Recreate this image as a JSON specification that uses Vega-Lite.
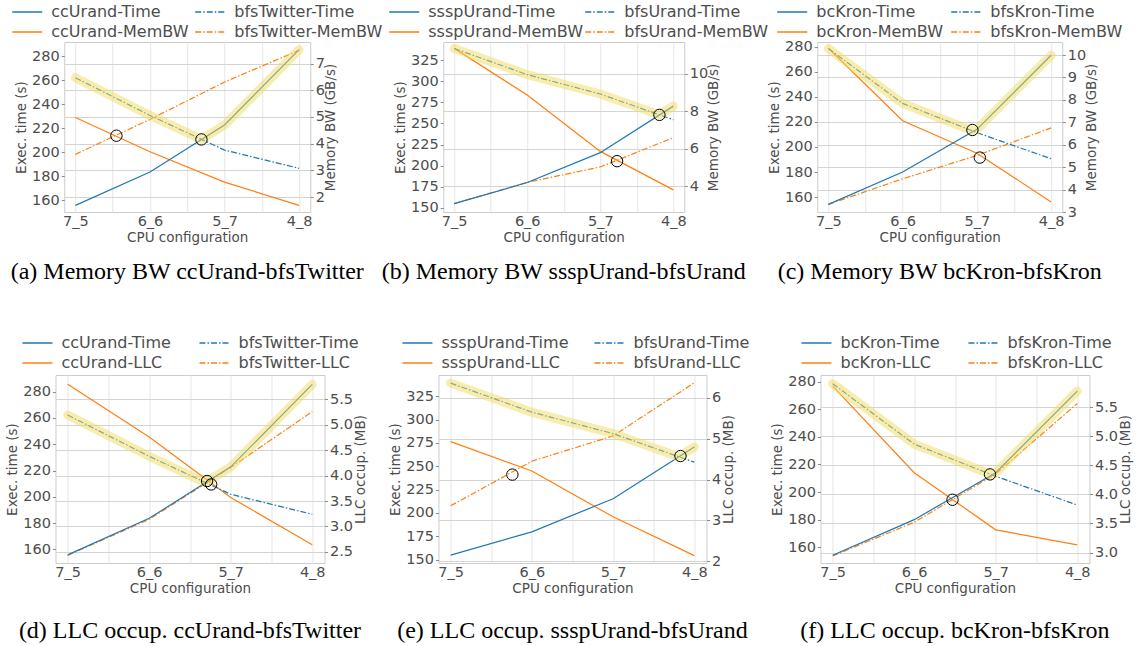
{
  "$schema": "https://vega.github.io/schema/vega-lite/v6.json",
  "padding": {"left": 5, "top": 2, "right": 5, "bottom": 5},
  "background": "white",
  "datasets": {
    "a": [
      {"m": "L", "k": "ccUrand-Time", "x": 0, "v": 155.8},
      {"m": "L", "k": "ccUrand-Time", "x": 1, "v": 183.6},
      {"m": "L", "k": "ccUrand-Time", "x": 2, "v": 222.8},
      {"m": "L", "k": "ccUrand-Time", "x": 3, "v": 285.6},
      {"m": "L", "k": "bfsTwitter-Time", "x": 0, "v": 262.2},
      {"m": "L", "k": "bfsTwitter-Time", "x": 1, "v": 230.8},
      {"m": "L", "k": "bfsTwitter-Time", "x": 2, "v": 201.9},
      {"m": "L", "k": "bfsTwitter-Time", "x": 3, "v": 186.7},
      {"m": "R", "k": "ccUrand-MemBW", "x": 0, "v": 4.98},
      {"m": "R", "k": "ccUrand-MemBW", "x": 1, "v": 3.70},
      {"m": "R", "k": "ccUrand-MemBW", "x": 2, "v": 2.56},
      {"m": "R", "k": "ccUrand-MemBW", "x": 3, "v": 1.69},
      {"m": "R", "k": "bfsTwitter-MemBW", "x": 0, "v": 3.60},
      {"m": "R", "k": "bfsTwitter-MemBW", "x": 1, "v": 4.91},
      {"m": "R", "k": "bfsTwitter-MemBW", "x": 2, "v": 6.31},
      {"m": "R", "k": "bfsTwitter-MemBW", "x": 3, "v": 7.50},
      {"m": "H", "k": "envelope", "x": 0, "v": 262.2},
      {"m": "H", "k": "envelope", "x": 1, "v": 230.8},
      {"m": "H", "k": "envelope", "x": 1.69, "v": 210.8},
      {"m": "H", "k": "envelope", "x": 2, "v": 222.8},
      {"m": "H", "k": "envelope", "x": 3, "v": 285.6},
      {"m": "C", "k": "crossing", "x": 0.55, "v": 213.9},
      {"m": "C", "k": "crossing", "x": 1.69, "v": 210.8}
    ],
    "b": [
      {"m": "L", "k": "ssspUrand-Time", "x": 0, "v": 154.8},
      {"m": "L", "k": "ssspUrand-Time", "x": 1, "v": 179.8},
      {"m": "L", "k": "ssspUrand-Time", "x": 2, "v": 215.3},
      {"m": "L", "k": "ssspUrand-Time", "x": 3, "v": 270.6},
      {"m": "L", "k": "bfsUrand-Time", "x": 0, "v": 339.1},
      {"m": "L", "k": "bfsUrand-Time", "x": 1, "v": 308.0},
      {"m": "L", "k": "bfsUrand-Time", "x": 2, "v": 285.0},
      {"m": "L", "k": "bfsUrand-Time", "x": 3, "v": 254.4},
      {"m": "R", "k": "ssspUrand-MemBW", "x": 0, "v": 11.36},
      {"m": "R", "k": "ssspUrand-MemBW", "x": 1, "v": 8.87},
      {"m": "R", "k": "ssspUrand-MemBW", "x": 2, "v": 5.87},
      {"m": "R", "k": "ssspUrand-MemBW", "x": 3, "v": 3.82},
      {"m": "R", "k": "bfsUrand-MemBW", "x": 0, "v": 3.09},
      {"m": "R", "k": "bfsUrand-MemBW", "x": 1, "v": 4.22},
      {"m": "R", "k": "bfsUrand-MemBW", "x": 2, "v": 5.04},
      {"m": "R", "k": "bfsUrand-MemBW", "x": 3, "v": 6.60},
      {"m": "H", "k": "envelope", "x": 0, "v": 339.1},
      {"m": "H", "k": "envelope", "x": 1, "v": 308.0},
      {"m": "H", "k": "envelope", "x": 2, "v": 285.0},
      {"m": "H", "k": "envelope", "x": 2.81, "v": 260.2},
      {"m": "H", "k": "envelope", "x": 3, "v": 270.6},
      {"m": "C", "k": "crossing", "x": 2.81, "v": 260.2},
      {"m": "C", "k": "crossing", "x": 2.23, "v": 205.2}
    ],
    "c": [
      {"m": "L", "k": "bcKron-Time", "x": 0, "v": 154.2},
      {"m": "L", "k": "bcKron-Time", "x": 1, "v": 180.0},
      {"m": "L", "k": "bcKron-Time", "x": 2, "v": 214.0},
      {"m": "L", "k": "bcKron-Time", "x": 3, "v": 273.1},
      {"m": "L", "k": "bfsKron-Time", "x": 0, "v": 278.5},
      {"m": "L", "k": "bfsKron-Time", "x": 1, "v": 234.7},
      {"m": "L", "k": "bfsKron-Time", "x": 2, "v": 211.4},
      {"m": "L", "k": "bfsKron-Time", "x": 3, "v": 190.6},
      {"m": "R", "k": "bcKron-MemBW", "x": 0, "v": 10.3},
      {"m": "R", "k": "bcKron-MemBW", "x": 1, "v": 7.07},
      {"m": "R", "k": "bcKron-MemBW", "x": 2, "v": 5.62},
      {"m": "R", "k": "bcKron-MemBW", "x": 3, "v": 3.45},
      {"m": "R", "k": "bfsKron-MemBW", "x": 0, "v": 3.34},
      {"m": "R", "k": "bfsKron-MemBW", "x": 1, "v": 4.48},
      {"m": "R", "k": "bfsKron-MemBW", "x": 2, "v": 5.52},
      {"m": "R", "k": "bfsKron-MemBW", "x": 3, "v": 6.75},
      {"m": "H", "k": "envelope", "x": 0, "v": 278.5},
      {"m": "H", "k": "envelope", "x": 1, "v": 234.7},
      {"m": "H", "k": "envelope", "x": 1.955, "v": 212.5},
      {"m": "H", "k": "envelope", "x": 2, "v": 214.0},
      {"m": "H", "k": "envelope", "x": 3, "v": 273.1},
      {"m": "C", "k": "crossing", "x": 1.94, "v": 213.5},
      {"m": "C", "k": "crossing", "x": 2.04, "v": 191.5}
    ],
    "d": [
      {"m": "L", "k": "ccUrand-Time", "x": 0, "v": 155.8},
      {"m": "L", "k": "ccUrand-Time", "x": 1, "v": 183.6},
      {"m": "L", "k": "ccUrand-Time", "x": 2, "v": 222.8},
      {"m": "L", "k": "ccUrand-Time", "x": 3, "v": 285.6},
      {"m": "L", "k": "bfsTwitter-Time", "x": 0, "v": 262.2},
      {"m": "L", "k": "bfsTwitter-Time", "x": 1, "v": 230.8},
      {"m": "L", "k": "bfsTwitter-Time", "x": 2, "v": 201.9},
      {"m": "L", "k": "bfsTwitter-Time", "x": 3, "v": 186.7},
      {"m": "R", "k": "ccUrand-LLC", "x": 0, "v": 5.80},
      {"m": "R", "k": "ccUrand-LLC", "x": 1, "v": 4.76},
      {"m": "R", "k": "ccUrand-LLC", "x": 2, "v": 3.57},
      {"m": "R", "k": "ccUrand-LLC", "x": 3, "v": 2.64},
      {"m": "R", "k": "bfsTwitter-LLC", "x": 0, "v": 2.43},
      {"m": "R", "k": "bfsTwitter-LLC", "x": 1, "v": 3.14},
      {"m": "R", "k": "bfsTwitter-LLC", "x": 2, "v": 4.16},
      {"m": "R", "k": "bfsTwitter-LLC", "x": 3, "v": 5.26},
      {"m": "H", "k": "envelope", "x": 0, "v": 262.2},
      {"m": "H", "k": "envelope", "x": 1, "v": 230.8},
      {"m": "H", "k": "envelope", "x": 1.69, "v": 210.8},
      {"m": "H", "k": "envelope", "x": 2, "v": 222.8},
      {"m": "H", "k": "envelope", "x": 3, "v": 285.6},
      {"m": "C", "k": "crossing", "x": 1.71, "v": 212.0},
      {"m": "C", "k": "crossing", "x": 1.76, "v": 209.4}
    ],
    "e": [
      {"m": "L", "k": "ssspUrand-Time", "x": 0, "v": 154.8},
      {"m": "L", "k": "ssspUrand-Time", "x": 1, "v": 179.8},
      {"m": "L", "k": "ssspUrand-Time", "x": 2, "v": 215.3},
      {"m": "L", "k": "ssspUrand-Time", "x": 3, "v": 270.6},
      {"m": "L", "k": "bfsUrand-Time", "x": 0, "v": 339.1},
      {"m": "L", "k": "bfsUrand-Time", "x": 1, "v": 308.0},
      {"m": "L", "k": "bfsUrand-Time", "x": 2, "v": 285.0},
      {"m": "L", "k": "bfsUrand-Time", "x": 3, "v": 254.4},
      {"m": "R", "k": "ssspUrand-LLC", "x": 0, "v": 4.93},
      {"m": "R", "k": "ssspUrand-LLC", "x": 1, "v": 4.21},
      {"m": "R", "k": "ssspUrand-LLC", "x": 2, "v": 3.09},
      {"m": "R", "k": "ssspUrand-LLC", "x": 3, "v": 2.14},
      {"m": "R", "k": "bfsUrand-LLC", "x": 0, "v": 3.36},
      {"m": "R", "k": "bfsUrand-LLC", "x": 1, "v": 4.45},
      {"m": "R", "k": "bfsUrand-LLC", "x": 2, "v": 5.07},
      {"m": "R", "k": "bfsUrand-LLC", "x": 3, "v": 6.37},
      {"m": "H", "k": "envelope", "x": 0, "v": 339.1},
      {"m": "H", "k": "envelope", "x": 1, "v": 308.0},
      {"m": "H", "k": "envelope", "x": 2, "v": 285.0},
      {"m": "H", "k": "envelope", "x": 2.81, "v": 260.2},
      {"m": "H", "k": "envelope", "x": 3, "v": 270.6},
      {"m": "C", "k": "crossing", "x": 0.76, "v": 241.1},
      {"m": "C", "k": "crossing", "x": 2.83, "v": 261.0}
    ],
    "f": [
      {"m": "L", "k": "bcKron-Time", "x": 0, "v": 154.2},
      {"m": "L", "k": "bcKron-Time", "x": 1, "v": 180.0},
      {"m": "L", "k": "bcKron-Time", "x": 2, "v": 214.0},
      {"m": "L", "k": "bcKron-Time", "x": 3, "v": 273.1},
      {"m": "L", "k": "bfsKron-Time", "x": 0, "v": 278.5},
      {"m": "L", "k": "bfsKron-Time", "x": 1, "v": 234.7},
      {"m": "L", "k": "bfsKron-Time", "x": 2, "v": 211.4},
      {"m": "L", "k": "bfsKron-Time", "x": 3, "v": 190.6},
      {"m": "R", "k": "bcKron-LLC", "x": 0, "v": 5.86},
      {"m": "R", "k": "bcKron-LLC", "x": 1, "v": 4.37},
      {"m": "R", "k": "bcKron-LLC", "x": 2, "v": 3.39},
      {"m": "R", "k": "bcKron-LLC", "x": 3, "v": 3.13},
      {"m": "R", "k": "bfsKron-LLC", "x": 0, "v": 2.94},
      {"m": "R", "k": "bfsKron-LLC", "x": 1, "v": 3.52},
      {"m": "R", "k": "bfsKron-LLC", "x": 2, "v": 4.35},
      {"m": "R", "k": "bfsKron-LLC", "x": 3, "v": 5.56},
      {"m": "H", "k": "envelope", "x": 0, "v": 278.5},
      {"m": "H", "k": "envelope", "x": 1, "v": 234.7},
      {"m": "H", "k": "envelope", "x": 1.955, "v": 212.5},
      {"m": "H", "k": "envelope", "x": 2, "v": 214.0},
      {"m": "H", "k": "envelope", "x": 3, "v": 273.1},
      {"m": "C", "k": "crossing", "x": 1.47, "v": 194.4},
      {"m": "C", "k": "crossing", "x": 1.93, "v": 212.8}
    ]
  },
  "vconcat": [
    {
      "hconcat": [
        {
          "width": 246, "height": 170,
          "data": {"name": "a"},
          "title": {"text": "(a) Memory BW ccUrand-bfsTwitter", "offset": 16},
          "encoding": {"x": {"field": "x", "type": "quantitative", "scale": {"domain": [-0.15, 3.15], "nice": false, "zero": false}, "axis": {"title": "CPU configuration", "values": [0, 0.5, 1, 1.5, 2, 2.5, 3], "labelExpr": "datum.value==0?'7_5':datum.value==1?'6_6':datum.value==2?'5_7':datum.value==3?'4_8':''", "ticks": false}}},
          "layer": [
            {
              "encoding": {"y": {"field": "v", "type": "quantitative", "scale": {"domain": [1.44, 7.81], "nice": false, "zero": false}, "axis": {"orient": "right", "title": "Memory BW (GB/s)", "titleAngle": 270, "titleBaseline": "top", "titlePadding": -1, "values": [2, 3, 4, 5, 6, 7], "gridColor": "#d4d4d4"}}},
              "layer": [
                {"transform": [{"filter": "datum.m == 'R' && indexof(datum.k, 'bfs') != 0"}], "mark": {"type": "line", "strokeWidth": 1.2}, "encoding": {"stroke": {"field": "k", "type": "nominal", "scale": {"domain": ["ccUrand-Time", "ccUrand-MemBW"], "range": ["#1f77b4", "#ff7f0e"]}, "legend": {"legendX": -53, "legendY": -39}}}},
                {"transform": [{"filter": "datum.m == 'R' && indexof(datum.k, 'bfs') == 0"}], "mark": {"type": "line", "strokeWidth": 1.2, "strokeDash": [6, 2, 1.5, 2]}, "encoding": {"color": {"field": "k", "type": "nominal", "scale": {"domain": ["bfsTwitter-Time", "bfsTwitter-MemBW"], "range": ["#1f77b4", "#ff7f0e"]}, "legend": {"legendX": 130, "legendY": -39, "symbolDash": [6, 2, 1.5, 2]}}}}
              ]
            },
            {
              "encoding": {"y": {"field": "v", "type": "quantitative", "scale": {"domain": [150.3, 292], "nice": false, "zero": false}, "axis": {"orient": "left", "title": "Exec. time (s)", "values": [160, 180, 200, 220, 240, 260, 280]}}},
              "layer": [
                {"transform": [{"filter": "datum.m == 'L' && indexof(datum.k, 'bfs') != 0"}], "mark": {"type": "line", "strokeWidth": 1.2}, "encoding": {"stroke": {"field": "k", "type": "nominal", "scale": {"domain": ["ccUrand-Time", "ccUrand-MemBW"], "range": ["#1f77b4", "#ff7f0e"]}, "legend": {"legendX": -53, "legendY": -39}}}},
                {"transform": [{"filter": "datum.m == 'L' && indexof(datum.k, 'bfs') == 0"}], "mark": {"type": "line", "strokeWidth": 1.2, "strokeDash": [6, 2, 1.5, 2]}, "encoding": {"color": {"field": "k", "type": "nominal", "scale": {"domain": ["bfsTwitter-Time", "bfsTwitter-MemBW"], "range": ["#1f77b4", "#ff7f0e"]}, "legend": {"legendX": 130, "legendY": -39, "symbolDash": [6, 2, 1.5, 2]}}}},
                {"transform": [{"filter": "datum.m == 'H'"}], "mark": {"type": "line", "color": "#f2dc5d", "opacity": 0.5, "strokeWidth": 9, "strokeCap": "round", "strokeJoin": "round"}, "encoding": {}},
                {"transform": [{"filter": "datum.m == 'C'"}], "mark": {"type": "point", "shape": "circle", "filled": false, "color": "black", "size": 130, "strokeWidth": 1, "opacity": 1}, "encoding": {}}
              ]
            }
          ],
          "resolve": {"scale": {"y": "independent"}}
        },
        {
          "width": 241, "height": 170,
          "data": {"name": "b"},
          "title": {"text": "(b) Memory BW ssspUrand-bfsUrand", "offset": 16},
          "encoding": {"x": {"field": "x", "type": "quantitative", "scale": {"domain": [-0.15, 3.15], "nice": false, "zero": false}, "axis": {"title": "CPU configuration", "values": [0, 0.5, 1, 1.5, 2, 2.5, 3], "labelExpr": "datum.value==0?'7_5':datum.value==1?'6_6':datum.value==2?'5_7':datum.value==3?'4_8':''", "ticks": false}}},
          "layer": [
            {
              "encoding": {"y": {"field": "v", "type": "quantitative", "scale": {"domain": [2.64, 11.7], "nice": false, "zero": false}, "axis": {"orient": "right", "title": "Memory BW (GB/s)", "titleAngle": 270, "titleBaseline": "top", "titlePadding": -1, "values": [4, 6, 8, 10], "gridColor": "#d4d4d4"}}},
              "layer": [
                {"transform": [{"filter": "datum.m == 'R' && indexof(datum.k, 'bfs') != 0"}], "mark": {"type": "line", "strokeWidth": 1.2}, "encoding": {"stroke": {"field": "k", "type": "nominal", "scale": {"domain": ["ssspUrand-Time", "ssspUrand-MemBW"], "range": ["#1f77b4", "#ff7f0e"]}, "legend": {"legendX": -55, "legendY": -39}}}},
                {"transform": [{"filter": "datum.m == 'R' && indexof(datum.k, 'bfs') == 0"}], "mark": {"type": "line", "strokeWidth": 1.2, "strokeDash": [6, 2, 1.5, 2]}, "encoding": {"color": {"field": "k", "type": "nominal", "scale": {"domain": ["bfsUrand-Time", "bfsUrand-MemBW"], "range": ["#1f77b4", "#ff7f0e"]}, "legend": {"legendX": 141, "legendY": -39, "symbolDash": [6, 2, 1.5, 2]}}}}
              ]
            },
            {
              "encoding": {"y": {"field": "v", "type": "quantitative", "scale": {"domain": [144.8, 346.8], "nice": false, "zero": false}, "axis": {"orient": "left", "title": "Exec. time (s)", "values": [150, 175, 200, 225, 250, 275, 300, 325]}}},
              "layer": [
                {"transform": [{"filter": "datum.m == 'L' && indexof(datum.k, 'bfs') != 0"}], "mark": {"type": "line", "strokeWidth": 1.2}, "encoding": {"stroke": {"field": "k", "type": "nominal", "scale": {"domain": ["ssspUrand-Time", "ssspUrand-MemBW"], "range": ["#1f77b4", "#ff7f0e"]}, "legend": {"legendX": -55, "legendY": -39}}}},
                {"transform": [{"filter": "datum.m == 'L' && indexof(datum.k, 'bfs') == 0"}], "mark": {"type": "line", "strokeWidth": 1.2, "strokeDash": [6, 2, 1.5, 2]}, "encoding": {"color": {"field": "k", "type": "nominal", "scale": {"domain": ["bfsUrand-Time", "bfsUrand-MemBW"], "range": ["#1f77b4", "#ff7f0e"]}, "legend": {"legendX": 141, "legendY": -39, "symbolDash": [6, 2, 1.5, 2]}}}},
                {"transform": [{"filter": "datum.m == 'H'"}], "mark": {"type": "line", "color": "#f2dc5d", "opacity": 0.5, "strokeWidth": 9, "strokeCap": "round", "strokeJoin": "round"}, "encoding": {}},
                {"transform": [{"filter": "datum.m == 'C'"}], "mark": {"type": "point", "shape": "circle", "filled": false, "color": "black", "size": 130, "strokeWidth": 1, "opacity": 1}, "encoding": {}}
              ]
            }
          ],
          "resolve": {"scale": {"y": "independent"}}
        },
        {
          "width": 245, "height": 170,
          "data": {"name": "c"},
          "title": {"text": "(c) Memory BW bcKron-bfsKron", "offset": 16},
          "encoding": {"x": {"field": "x", "type": "quantitative", "scale": {"domain": [-0.15, 3.15], "nice": false, "zero": false}, "axis": {"title": "CPU configuration", "values": [0, 0.5, 1, 1.5, 2, 2.5, 3], "labelExpr": "datum.value==0?'7_5':datum.value==1?'6_6':datum.value==2?'5_7':datum.value==3?'4_8':''", "ticks": false}}},
          "layer": [
            {
              "encoding": {"y": {"field": "v", "type": "quantitative", "scale": {"domain": [3.0, 10.58], "nice": false, "zero": false}, "axis": {"orient": "right", "title": "Memory BW (GB/s)", "titleAngle": 270, "titleBaseline": "top", "titlePadding": -1, "values": [3, 4, 5, 6, 7, 8, 9, 10], "gridColor": "#d4d4d4"}}},
              "layer": [
                {"transform": [{"filter": "datum.m == 'R' && indexof(datum.k, 'bfs') != 0"}], "mark": {"type": "line", "strokeWidth": 1.2}, "encoding": {"stroke": {"field": "k", "type": "nominal", "scale": {"domain": ["bcKron-Time", "bcKron-MemBW"], "range": ["#1f77b4", "#ff7f0e"]}, "legend": {"legendX": -41, "legendY": -39}}}},
                {"transform": [{"filter": "datum.m == 'R' && indexof(datum.k, 'bfs') == 0"}], "mark": {"type": "line", "strokeWidth": 1.2, "strokeDash": [6, 2, 1.5, 2]}, "encoding": {"color": {"field": "k", "type": "nominal", "scale": {"domain": ["bfsKron-Time", "bfsKron-MemBW"], "range": ["#1f77b4", "#ff7f0e"]}, "legend": {"legendX": 133, "legendY": -39, "symbolDash": [6, 2, 1.5, 2]}}}}
              ]
            },
            {
              "encoding": {"y": {"field": "v", "type": "quantitative", "scale": {"domain": [148.1, 283.7], "nice": false, "zero": false}, "axis": {"orient": "left", "title": "Exec. time (s)", "values": [160, 180, 200, 220, 240, 260, 280]}}},
              "layer": [
                {"transform": [{"filter": "datum.m == 'L' && indexof(datum.k, 'bfs') != 0"}], "mark": {"type": "line", "strokeWidth": 1.2}, "encoding": {"stroke": {"field": "k", "type": "nominal", "scale": {"domain": ["bcKron-Time", "bcKron-MemBW"], "range": ["#1f77b4", "#ff7f0e"]}, "legend": {"legendX": -41, "legendY": -39}}}},
                {"transform": [{"filter": "datum.m == 'L' && indexof(datum.k, 'bfs') == 0"}], "mark": {"type": "line", "strokeWidth": 1.2, "strokeDash": [6, 2, 1.5, 2]}, "encoding": {"color": {"field": "k", "type": "nominal", "scale": {"domain": ["bfsKron-Time", "bfsKron-MemBW"], "range": ["#1f77b4", "#ff7f0e"]}, "legend": {"legendX": 133, "legendY": -39, "symbolDash": [6, 2, 1.5, 2]}}}},
                {"transform": [{"filter": "datum.m == 'H'"}], "mark": {"type": "line", "color": "#f2dc5d", "opacity": 0.5, "strokeWidth": 9, "strokeCap": "round", "strokeJoin": "round"}, "encoding": {}},
                {"transform": [{"filter": "datum.m == 'C'"}], "mark": {"type": "point", "shape": "circle", "filled": false, "color": "black", "size": 130, "strokeWidth": 1, "opacity": 1}, "encoding": {}}
              ]
            }
          ],
          "resolve": {"scale": {"y": "independent"}}
        }
      ],
      "spacing": 133,
      "bounds": "flush",
      "resolve": {"scale": {"color": "independent", "stroke": "independent"}, "legend": {"color": "independent", "stroke": "independent"}}
    },
    {
      "hconcat": [
        {
          "width": 269, "height": 188,
          "data": {"name": "d"},
          "title": {"text": "(d) LLC occup. ccUrand-bfsTwitter", "offset": 24},
          "encoding": {"x": {"field": "x", "type": "quantitative", "scale": {"domain": [-0.15, 3.15], "nice": false, "zero": false}, "axis": {"title": "CPU configuration", "values": [0, 0.5, 1, 1.5, 2, 2.5, 3], "labelExpr": "datum.value==0?'7_5':datum.value==1?'6_6':datum.value==2?'5_7':datum.value==3?'4_8':''", "ticks": false}}},
          "layer": [
            {
              "encoding": {"y": {"field": "v", "type": "quantitative", "scale": {"domain": [2.28, 5.98], "nice": false, "zero": false}, "axis": {"orient": "right", "title": "LLC occup. (MB)", "titleAngle": 270, "titleBaseline": "top", "titlePadding": 1, "values": [2.5, 3, 3.5, 4, 4.5, 5, 5.5], "format": ".1f", "gridColor": "#d4d4d4"}}},
              "layer": [
                {"transform": [{"filter": "datum.m == 'R' && indexof(datum.k, 'bfs') != 0"}], "mark": {"type": "line", "strokeWidth": 1.2}, "encoding": {"stroke": {"field": "k", "type": "nominal", "scale": {"domain": ["ccUrand-Time", "ccUrand-LLC"], "range": ["#1f77b4", "#ff7f0e"]}, "legend": {"legendX": -34, "legendY": -41}}}},
                {"transform": [{"filter": "datum.m == 'R' && indexof(datum.k, 'bfs') == 0"}], "mark": {"type": "line", "strokeWidth": 1.2, "strokeDash": [6, 2, 1.5, 2]}, "encoding": {"color": {"field": "k", "type": "nominal", "scale": {"domain": ["bfsTwitter-Time", "bfsTwitter-LLC"], "range": ["#1f77b4", "#ff7f0e"]}, "legend": {"legendX": 143, "legendY": -41, "symbolDash": [6, 2, 1.5, 2]}}}}
              ]
            },
            {
              "encoding": {"y": {"field": "v", "type": "quantitative", "scale": {"domain": [149.6, 292.7], "nice": false, "zero": false}, "axis": {"orient": "left", "title": "Exec. time (s)", "values": [160, 180, 200, 220, 240, 260, 280]}}},
              "layer": [
                {"transform": [{"filter": "datum.m == 'L' && indexof(datum.k, 'bfs') != 0"}], "mark": {"type": "line", "strokeWidth": 1.2}, "encoding": {"stroke": {"field": "k", "type": "nominal", "scale": {"domain": ["ccUrand-Time", "ccUrand-LLC"], "range": ["#1f77b4", "#ff7f0e"]}, "legend": {"legendX": -34, "legendY": -41}}}},
                {"transform": [{"filter": "datum.m == 'L' && indexof(datum.k, 'bfs') == 0"}], "mark": {"type": "line", "strokeWidth": 1.2, "strokeDash": [6, 2, 1.5, 2]}, "encoding": {"color": {"field": "k", "type": "nominal", "scale": {"domain": ["bfsTwitter-Time", "bfsTwitter-LLC"], "range": ["#1f77b4", "#ff7f0e"]}, "legend": {"legendX": 143, "legendY": -41, "symbolDash": [6, 2, 1.5, 2]}}}},
                {"transform": [{"filter": "datum.m == 'H'"}], "mark": {"type": "line", "color": "#f2dc5d", "opacity": 0.5, "strokeWidth": 9, "strokeCap": "round", "strokeJoin": "round"}, "encoding": {}},
                {"transform": [{"filter": "datum.m == 'C'"}], "mark": {"type": "point", "shape": "circle", "filled": false, "color": "black", "size": 130, "strokeWidth": 1, "opacity": 1}, "encoding": {}}
              ]
            }
          ],
          "resolve": {"scale": {"y": "independent"}}
        },
        {
          "width": 268, "height": 188,
          "data": {"name": "e"},
          "title": {"text": "(e) LLC occup. ssspUrand-bfsUrand", "offset": 24},
          "encoding": {"x": {"field": "x", "type": "quantitative", "scale": {"domain": [-0.15, 3.15], "nice": false, "zero": false}, "axis": {"title": "CPU configuration", "values": [0, 0.5, 1, 1.5, 2, 2.5, 3], "labelExpr": "datum.value==0?'7_5':datum.value==1?'6_6':datum.value==2?'5_7':datum.value==3?'4_8':''", "ticks": false}}},
          "layer": [
            {
              "encoding": {"y": {"field": "v", "type": "quantitative", "scale": {"domain": [1.96, 6.56], "nice": false, "zero": false}, "axis": {"orient": "right", "title": "LLC occup. (MB)", "titleAngle": 270, "titleBaseline": "top", "titlePadding": 1, "values": [2, 3, 4, 5, 6], "gridColor": "#d4d4d4"}}},
              "layer": [
                {"transform": [{"filter": "datum.m == 'R' && indexof(datum.k, 'bfs') != 0"}], "mark": {"type": "line", "strokeWidth": 1.2}, "encoding": {"stroke": {"field": "k", "type": "nominal", "scale": {"domain": ["ssspUrand-Time", "ssspUrand-LLC"], "range": ["#1f77b4", "#ff7f0e"]}, "legend": {"legendX": -37, "legendY": -41}}}},
                {"transform": [{"filter": "datum.m == 'R' && indexof(datum.k, 'bfs') == 0"}], "mark": {"type": "line", "strokeWidth": 1.2, "strokeDash": [6, 2, 1.5, 2]}, "encoding": {"color": {"field": "k", "type": "nominal", "scale": {"domain": ["bfsUrand-Time", "bfsUrand-LLC"], "range": ["#1f77b4", "#ff7f0e"]}, "legend": {"legendX": 155, "legendY": -41, "symbolDash": [6, 2, 1.5, 2]}}}}
              ]
            },
            {
              "encoding": {"y": {"field": "v", "type": "quantitative", "scale": {"domain": [146.4, 347.8], "nice": false, "zero": false}, "axis": {"orient": "left", "title": "Exec. time (s)", "values": [150, 175, 200, 225, 250, 275, 300, 325]}}},
              "layer": [
                {"transform": [{"filter": "datum.m == 'L' && indexof(datum.k, 'bfs') != 0"}], "mark": {"type": "line", "strokeWidth": 1.2}, "encoding": {"stroke": {"field": "k", "type": "nominal", "scale": {"domain": ["ssspUrand-Time", "ssspUrand-LLC"], "range": ["#1f77b4", "#ff7f0e"]}, "legend": {"legendX": -37, "legendY": -41}}}},
                {"transform": [{"filter": "datum.m == 'L' && indexof(datum.k, 'bfs') == 0"}], "mark": {"type": "line", "strokeWidth": 1.2, "strokeDash": [6, 2, 1.5, 2]}, "encoding": {"color": {"field": "k", "type": "nominal", "scale": {"domain": ["bfsUrand-Time", "bfsUrand-LLC"], "range": ["#1f77b4", "#ff7f0e"]}, "legend": {"legendX": 155, "legendY": -41, "symbolDash": [6, 2, 1.5, 2]}}}},
                {"transform": [{"filter": "datum.m == 'H'"}], "mark": {"type": "line", "color": "#f2dc5d", "opacity": 0.5, "strokeWidth": 9, "strokeCap": "round", "strokeJoin": "round"}, "encoding": {}},
                {"transform": [{"filter": "datum.m == 'C'"}], "mark": {"type": "point", "shape": "circle", "filled": false, "color": "black", "size": 130, "strokeWidth": 1, "opacity": 1}, "encoding": {}}
              ]
            }
          ],
          "resolve": {"scale": {"y": "independent"}}
        },
        {
          "width": 269, "height": 188,
          "data": {"name": "f"},
          "title": {"text": "(f) LLC occup. bcKron-bfsKron", "offset": 24},
          "encoding": {"x": {"field": "x", "type": "quantitative", "scale": {"domain": [-0.15, 3.15], "nice": false, "zero": false}, "axis": {"title": "CPU configuration", "values": [0, 0.5, 1, 1.5, 2, 2.5, 3], "labelExpr": "datum.value==0?'7_5':datum.value==1?'6_6':datum.value==2?'5_7':datum.value==3?'4_8':''", "ticks": false}}},
          "layer": [
            {
              "encoding": {"y": {"field": "v", "type": "quantitative", "scale": {"domain": [2.82, 6.05], "nice": false, "zero": false}, "axis": {"orient": "right", "title": "LLC occup. (MB)", "titleAngle": 270, "titleBaseline": "top", "titlePadding": 1, "values": [3, 3.5, 4, 4.5, 5, 5.5], "format": ".1f", "gridColor": "#d4d4d4"}}},
              "layer": [
                {"transform": [{"filter": "datum.m == 'R' && indexof(datum.k, 'bfs') != 0"}], "mark": {"type": "line", "strokeWidth": 1.2}, "encoding": {"stroke": {"field": "k", "type": "nominal", "scale": {"domain": ["bcKron-Time", "bcKron-LLC"], "range": ["#1f77b4", "#ff7f0e"]}, "legend": {"legendX": -20, "legendY": -41}}}},
                {"transform": [{"filter": "datum.m == 'R' && indexof(datum.k, 'bfs') == 0"}], "mark": {"type": "line", "strokeWidth": 1.2, "strokeDash": [6, 2, 1.5, 2]}, "encoding": {"color": {"field": "k", "type": "nominal", "scale": {"domain": ["bfsKron-Time", "bfsKron-LLC"], "range": ["#1f77b4", "#ff7f0e"]}, "legend": {"legendX": 147, "legendY": -41, "symbolDash": [6, 2, 1.5, 2]}}}}
              ]
            },
            {
              "encoding": {"y": {"field": "v", "type": "quantitative", "scale": {"domain": [148.6, 284.8], "nice": false, "zero": false}, "axis": {"orient": "left", "title": "Exec. time (s)", "values": [160, 180, 200, 220, 240, 260, 280]}}},
              "layer": [
                {"transform": [{"filter": "datum.m == 'L' && indexof(datum.k, 'bfs') != 0"}], "mark": {"type": "line", "strokeWidth": 1.2}, "encoding": {"stroke": {"field": "k", "type": "nominal", "scale": {"domain": ["bcKron-Time", "bcKron-LLC"], "range": ["#1f77b4", "#ff7f0e"]}, "legend": {"legendX": -20, "legendY": -41}}}},
                {"transform": [{"filter": "datum.m == 'L' && indexof(datum.k, 'bfs') == 0"}], "mark": {"type": "line", "strokeWidth": 1.2, "strokeDash": [6, 2, 1.5, 2]}, "encoding": {"color": {"field": "k", "type": "nominal", "scale": {"domain": ["bfsKron-Time", "bfsKron-LLC"], "range": ["#1f77b4", "#ff7f0e"]}, "legend": {"legendX": 147, "legendY": -41, "symbolDash": [6, 2, 1.5, 2]}}}},
                {"transform": [{"filter": "datum.m == 'H'"}], "mark": {"type": "line", "color": "#f2dc5d", "opacity": 0.5, "strokeWidth": 9, "strokeCap": "round", "strokeJoin": "round"}, "encoding": {}},
                {"transform": [{"filter": "datum.m == 'C'"}], "mark": {"type": "point", "shape": "circle", "filled": false, "color": "black", "size": 130, "strokeWidth": 1, "opacity": 1}, "encoding": {}}
              ]
            }
          ],
          "resolve": {"scale": {"y": "independent"}}
        }
      ],
      "spacing": 114,
      "bounds": "flush",
      "resolve": {"scale": {"color": "independent", "stroke": "independent"}, "legend": {"color": "independent", "stroke": "independent"}}
    }
  ],
  "spacing": 48,
  "bounds": "full",
  "center": true,
  "resolve": {"scale": {"color": "independent", "stroke": "independent"}, "legend": {"color": "independent", "stroke": "independent"}},
  "config": {
    "font": "DejaVu Sans",
    "view": {"stroke": "#cccccc", "strokeWidth": 1},
    "axis": {"labelFont": "DejaVu Sans", "labelFontSize": 14.5, "labelColor": "#4d4d4d", "titleFont": "DejaVu Sans", "titleFontSize": 13.5, "titleColor": "#4d4d4d", "titleFontWeight": "normal", "domain": false, "tickColor": "#8a8a8a", "tickSize": 3, "labelPadding": 2, "titlePadding": 3, "grid": true, "gridColor": "#e6e6e6", "gridWidth": 1},
    "legend": {"orient": "none", "title": null, "direction": "vertical", "symbolType": "stroke", "symbolSize": 900, "symbolStrokeWidth": 1.5, "labelOffset": 8, "labelFont": "DejaVu Sans", "labelFontSize": 16, "labelColor": "#4d4d4d", "clipHeight": 18, "rowPadding": 2},
    "title": {"orient": "bottom", "anchor": "middle", "frame": "group", "font": "Liberation Serif", "fontSize": 24, "fontWeight": "normal", "color": "#000000"}
  }
}
